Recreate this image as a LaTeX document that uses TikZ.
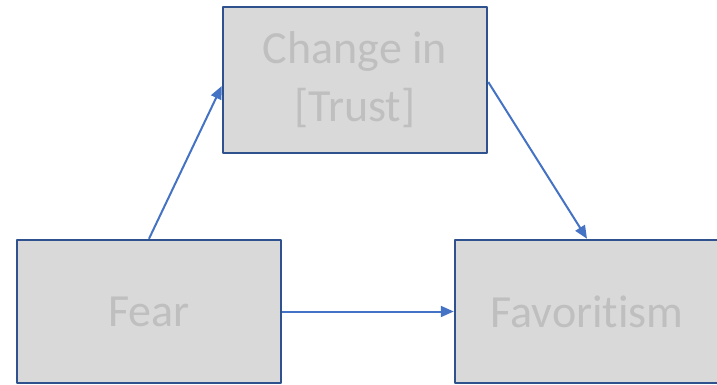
\documentclass[tikz,border=0pt]{standalone}
\usepackage{fontspec}
\setmainfont[Ligatures=NoCommon]{Carlito}
\usetikzlibrary{arrows.meta}
\definecolor{boxfill}{HTML}{D9D9D9}
\definecolor{boxline}{HTML}{2F528F}
\definecolor{boxtext}{HTML}{BFBFBF}
\definecolor{arrowblue}{HTML}{4472C4}
\tikzset{
  varbox/.style={draw=boxline, fill=boxfill, line width=2.5pt, minimum width=264pt, inner sep=0pt,
    text=boxtext, align=center, font=\fontsize{46}{58}\selectfont},
  link/.style={draw=arrowblue, line width=2pt, -{Triangle[length=13pt, width=11pt]}}
}
\begin{document}
\begin{tikzpicture}[x=1pt, y=-1pt, line join=round]
				\useasboundingbox (0,0) rectangle (717,385);
				% ==========================================
				\node[varbox, minimum height=146pt] (trust) at (355,80) {Change in\\{}[Trust]};
				\node[varbox, minimum height=143pt] (fear) at (149,311.5) {Fear};
				\node[varbox, minimum height=143pt] (fav) at (587,311.5) {Favoritism};
				% ==========================================
				\draw[link] (fear.north) -- ([yshift=-6pt]trust.west);
				\draw[link] ([yshift=-2pt]trust.east) -- (fav.north);
				\draw[link] (fear.east) -- (fav.west);
\end{tikzpicture}
\end{document}
